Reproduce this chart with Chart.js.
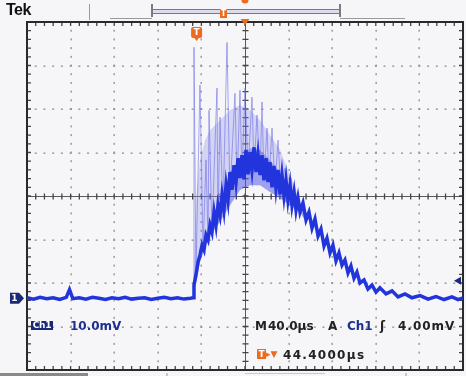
<!DOCTYPE html>
<html><head><meta charset="utf-8">
<script src="https://cdn.jsdelivr.net/npm/chart.js@4/dist/chart.umd.min.js"></script>
<style>
html,body{margin:0;padding:0;background:#f6f6f8;}
#wrap{position:relative;width:466px;height:376px;overflow:hidden;background:#f6f6f8;}
#c{position:absolute;left:0;top:0;}
.t{position:absolute;font-family:"DejaVu Sans",sans-serif;font-weight:bold;font-size:12px;line-height:12px;white-space:nowrap;color:#222;}
.navy{color:#1f2f90;}
.box{position:absolute;background:#1b2a78;color:#fff;font-family:"DejaVu Sans",sans-serif;font-weight:bold;font-size:9px;line-height:9px;height:9px;text-align:center;letter-spacing:-0.3px;}
.mk{position:absolute;color:#fff;font-family:"DejaVu Sans",sans-serif;font-weight:bold;font-size:9px;line-height:9px;text-align:center;width:11px;}
</style></head><body>
<div id="wrap">
<canvas id="c" width="466" height="376"></canvas>
<div class="t" id="tek" style="left:6px;top:2px;font-family:'Liberation Sans',sans-serif;font-size:16px;line-height:16px;color:#111;letter-spacing:-0.5px;">Tek</div>
<div class="box" style="left:31px;top:321px;width:22px;">Ch1</div>
<div class="t navy" style="left:70px;top:320px;">10.0mV</div>
<div class="t" style="left:255px;top:320px;">M<span style="margin-left:1px">40.0µs</span></div>
<div class="t" style="left:328px;top:320px;">A</div>
<div class="t navy" style="left:347px;top:320px;">Ch1</div>
<div class="t" style="left:380px;top:320px;">ʃ</div>
<div class="t" style="left:398px;top:320px;letter-spacing:1px;">4.00mV</div>
<div class="mk" style="left:257px;top:349px;width:9px;height:10px;background:#ee6a1c;line-height:10px;">T</div>
<div class="t" style="left:266px;top:348px;color:#ee6a1c;font-size:9px;">▸▼</div>
<div class="t" style="left:283px;top:349px;letter-spacing:1.3px;">44.4000µs</div>
<div class="mk" id="gm">1</div>
<div class="mk" id="tm">T</div>
<div class="mk" id="rm" style="width:7px;font-size:8px;">T</div>
</div>
<script>
// scope settings
const timeDivUs = 40;      // M 40.0µs per division
const voltDivMv = 10;      // Ch1 10.0mV per division
const xTicks = [-200,-160,-120,-80,-40,0,40,80,120,160,200];
const yTicks = [-40,-30,-20,-10,0,10,20,30,40];
const groundMv = -23.5;    // channel 1 ground level (relative to screen centre)
const triggerTimeUs = -44.4;
const triggerLevelMv = 4.0;

// main trace, µs and mV relative to screen centre
const traceT = [-200,-194,-188,-182,-176,-170,-164,-161,-158,-152,-146,-140,-134,-128,-122,-116,-110,-104,-98,-92,-86,-80,-74,-68,-62,-56,-50,
 -47.7,-46.8,-45.0,-43.1,-41.3,-39.4,-37.6,-35.8,-33.9,-32.1,-30.3,-28.4,-26.6,-24.8,-22.9,-21.1,-19.3,-17.4,-15.6,-13.8,-11.9,-10.1,-8.3,-6.4,-4.6,-2.8,-0.9,
 0.9,2.8,4.6,6.4,8.3,10.1,11.9,13.8,15.6,17.4,19.3,21.1,22.9,24.8,26.6,28.4,30.3,32.1,33.9,35.8,37.6,39.4,41.3,43.1,45.0,46.8,48.6,
 50.5,53.2,56.0,58.7,61.5,64.2,67.0,69.7,72.5,75.2,78.0,80.7,83.5,86.2,89.0,91.7,94.5,97.2,100.0,102.7,105.5,109.2,112.8,116.5,120.2,123.8,
 129.4,134.9,140.4,146.8,153.2,160.6,167.9,175.2,182.6,189.9,195.4,200];
const traceV = [-23.4,-23.7,-23.3,-23.6,-23.4,-23.8,-23.3,-21.5,-23.6,-23.4,-23.7,-23.3,-23.5,-23.8,-23.4,-23.6,-23.3,-23.7,-23.5,-23.4,-23.8,-23.5,-23.3,-23.6,-23.4,-23.7,-23.5,
 -23.4,-20.5,-18.2,-15.2,-13.6,-11.3,-12.4,-9.0,-10.1,-6.7,-8.3,-3.7,-6.7,-2.1,-4.4,0.2,-3.2,2.5,-0.9,5.5,1.4,7.1,3.2,8.7,4.1,9.4,3.8,
 10.6,5.0,10.1,6.0,11.2,5.5,9.6,4.8,9.4,3.6,8.7,3.2,7.8,2.0,6.9,1.8,6.0,0.4,4.8,0,3.7,-0.9,2.5,-2.1,0.9,-3.2,-0.5,
 -3.7,-1.6,-5.5,-3.7,-7.4,-5.3,-9.2,-7.6,-11.5,-9.7,-13.1,-11.3,-14.9,-13.1,-15.9,-14.7,-17.7,-16.1,-18.9,-17.5,-20.0,-19.3,-21.4,-20.5,-22.1,-21.1,
 -22.5,-21.8,-23.2,-22.5,-23.4,-22.9,-23.7,-23.1,-23.8,-23.2,-23.8,-23.4];

// sparse high spikes
const spikeT = [-47.7,-46.8,-45.0,-41.3,-38.5,-35.8,-33.9,-33.0,-30.3,-25.7,-24.8,-22.9,-20.2,-16.5,-13.8,-9.2,-7.3,-4.6,-2.8,0,2.8,6.4,8.3,11.0,13.8,15.6,17.4,20.2,22.0,24.8,27.5,30.3,33.0,36.7,39.4,42.2,45.0,48.6,50.5];
const spikeV = [-23.4,34.2,-17.4,25.5,-12.4,8.3,-10.1,19.7,-8.3,24.8,-6.0,18.1,-3.7,35.3,0.2,23.6,2.5,24.3,4.1,24.8,5.5,22.7,6.0,18.6,4.8,21.6,4.1,15.6,3.2,15.6,2.3,12.8,0.9,6.4,-0.9,4.1,-2.1,0.9,-3.7];

// light persistence haze outline (upper edge, then lower edge back)
const hazeT = [-47.7,-45.0,-41.3,-36.7,-32.1,-22.9,-13.8,-4.6,4.6,13.8,22.9,32.1,41.3,50.5,56.0,
               56.0,50.5,41.3,32.1,22.9,13.8,4.6,-4.6,-13.8,-22.9,-32.1,-41.3,-47.7];
const hazeV = [-23.4,-0.9,8.3,12.8,15.1,17.4,19.7,20.9,19.7,17.4,14.0,10.6,4.8,-0.9,-6.0,
               -6.0,-3.7,-2.1,-0.5,0.9,2.5,2.5,1.4,-2.1,-6.0,-9.0,-15.2,-23.4];

// dense band outline (upper edge, then lower edge back)
const denseT = [-47.7,-41.3,-32.1,-22.9,-13.8,-4.6,4.6,13.8,22.9,32.1,41.3,50.5,56.0,
                56.0,50.5,41.3,32.1,22.9,13.8,4.6,-4.6,-13.8,-22.9,-32.1,-41.3,-47.7];
const denseV = [-23.4,-12.0,-6.0,-0.9,5.5,8.7,11.0,10.6,8.3,5.5,1.8,-1.6,-4.6,
                -6.0,-3.7,-2.1,-0.5,0.9,2.5,2.5,1.4,-2.1,-6.0,-9.0,-15.2,-23.4];

const pts = (T,V)=>T.map((t,i)=>({x:t,y:V[i]}));

const graticule = {
  id:'graticule',
  beforeDatasetsDraw(chart){
    const {ctx, chartArea:a, scales:{x,y}} = chart;
    ctx.save();
    const minorX = timeDivUs/5, minorY = voltDivMv/5;
    ctx.fillStyle = '#8c8c8c';
    xTicks.forEach((tv,i)=>{
      if(i===0||i===xTicks.length-1||tv===0) return;
      const px = Math.round(x.getPixelForValue(tv));
      for(let v=yTicks[0]+minorY; v<yTicks[yTicks.length-1]-0.01; v+=minorY){
        const py = y.getPixelForValue(v);
        ctx.fillRect(px-0.5, py-1, 1.3, 2);
      }
    });
    yTicks.forEach((tv,i)=>{
      if(i===0||i===yTicks.length-1||tv===0) return;
      const py = Math.round(y.getPixelForValue(tv));
      for(let t=xTicks[0]+minorX; t<xTicks[xTicks.length-1]-0.01; t+=minorX){
        const px = x.getPixelForValue(t);
        ctx.fillRect(px-1, py-0.5, 2, 1.3);
      }
    });
    const cx = Math.round(x.getPixelForValue(0))+0.5, cy = Math.round(y.getPixelForValue(0))+0.5;
    ctx.strokeStyle = '#5a5a5a'; ctx.lineWidth = 1;
    ctx.beginPath(); ctx.moveTo(a.left,cy); ctx.lineTo(a.right,cy); ctx.moveTo(cx,a.top); ctx.lineTo(cx,a.bottom); ctx.stroke();
    ctx.strokeStyle = '#444'; ctx.lineWidth = 1.3;
    ctx.beginPath();
    for(let t=xTicks[0]+minorX; t<xTicks[xTicks.length-1]-0.01; t+=minorX){
      const px = x.getPixelForValue(t); ctx.moveTo(px,cy-3); ctx.lineTo(px,cy+3);
      ctx.moveTo(px,a.top); ctx.lineTo(px,a.top+4); ctx.moveTo(px,a.bottom); ctx.lineTo(px,a.bottom-4);
    }
    for(let v=yTicks[0]+minorY; v<yTicks[yTicks.length-1]-0.01; v+=minorY){
      const py = y.getPixelForValue(v); ctx.moveTo(cx-3,py); ctx.lineTo(cx+3,py);
      ctx.moveTo(a.left,py); ctx.lineTo(a.left+4,py); ctx.moveTo(a.right,py); ctx.lineTo(a.right-4,py);
    }
    ctx.stroke();
    ctx.strokeStyle = '#2a2a2a'; ctx.lineWidth = 2;
    ctx.strokeRect(a.left, a.top, a.right-a.left, a.bottom-a.top);
    ctx.restore();
  },
  afterDatasetsDraw(chart){
    const {ctx, chartArea:a, scales:{x,y}} = chart;
    ctx.save();
    const gy = y.getPixelForValue(groundMv);
    ctx.fillStyle = '#1b2a78';
    ctx.beginPath();
    ctx.moveTo(10,gy-5.5); ctx.lineTo(19,gy-5.5); ctx.lineTo(24,gy); ctx.lineTo(19,gy+5.5); ctx.lineTo(10,gy+5.5); ctx.closePath(); ctx.fill();
    const ty = y.getPixelForValue(groundMv+triggerLevelMv);
    ctx.beginPath(); ctx.moveTo(a.right-9,ty); ctx.lineTo(a.right-2,ty-4); ctx.lineTo(a.right-2,ty+4); ctx.closePath(); ctx.fill();
    const tx = x.getPixelForValue(triggerTimeUs);
    ctx.fillStyle = '#ee6a1c';
    ctx.beginPath(); ctx.roundRect(tx-5.5, a.top+5, 11, 11, 2); ctx.fill();
    ctx.beginPath(); ctx.moveTo(tx-3,a.top+15); ctx.lineTo(tx+3,a.top+15); ctx.lineTo(tx,a.top+19); ctx.closePath(); ctx.fill();
    const cx = x.getPixelForValue(0);
    ctx.beginPath(); ctx.moveTo(cx-4.5,a.top-3); ctx.lineTo(cx+4.5,a.top-3); ctx.lineTo(cx,a.top+3); ctx.closePath(); ctx.fill();
    ctx.beginPath(); ctx.arc(cx,0,3.5,0,Math.PI*2); ctx.fill();
    ctx.strokeStyle = '#555'; ctx.lineWidth = 1.5;
    ctx.beginPath(); ctx.moveTo(152,4); ctx.lineTo(152,17); ctx.moveTo(340,4); ctx.lineTo(340,17); ctx.stroke();
    ctx.fillStyle = '#dcdcee'; ctx.fillRect(152,9,188,4);
    ctx.strokeStyle = '#7474a4'; ctx.lineWidth = 1; ctx.strokeRect(152.5,9.5,187,4);
    ctx.fillStyle = '#ee6a1c'; ctx.fillRect(220,9,7,9);
    ctx.strokeStyle = '#9a9a9a'; ctx.lineWidth = 1;
    ctx.beginPath(); ctx.moveTo(89.5,4); ctx.lineTo(89.5,20); ctx.moveTo(110,18.5); ctx.lineTo(152,18.5); ctx.moveTo(340,18.5); ctx.lineTo(405,18.5); ctx.stroke();
    ctx.fillStyle = '#8a8a8a'; ctx.fillRect(0,373,88,3);
    ctx.fillStyle = '#c8c8c8'; ctx.fillRect(166,373,2,3); ctx.fillRect(245,373,80,1); ctx.fillRect(405,373,2,3);
    ctx.restore();
  }
};

const chart = new Chart(document.getElementById('c'), {
  type:'line',
  data:{datasets:[
    {label:'Ch1', data:pts(traceT,traceV), borderColor:'#2234dc', borderWidth:3.5, pointRadius:0, fill:false, tension:0},
    {label:'spikes', data:pts(spikeT,spikeV), borderColor:'rgba(110,110,230,0.6)', borderWidth:1, pointRadius:0, fill:false, tension:0},
    {label:'dense', data:pts(denseT,denseV), borderColor:'rgba(0,0,0,0)', borderWidth:0, pointRadius:0, fill:'shape', backgroundColor:'rgba(60,70,225,0.35)', tension:0},
    {label:'haze', data:pts(hazeT,hazeV), borderColor:'rgba(0,0,0,0)', borderWidth:0, pointRadius:0, fill:'shape', backgroundColor:'rgba(130,130,235,0.3)', tension:0}
  ]},
  options:{
    responsive:false, animation:false,
    layout:{padding:{left:27,right:3,top:22,bottom:6}},
    plugins:{legend:{display:false}, tooltip:{enabled:false}},
    scales:{
      x:{type:'linear', min:xTicks[0], max:xTicks[xTicks.length-1], display:false},
      y:{type:'linear', min:yTicks[0], max:yTicks[yTicks.length-1], display:false}
    }
  },
  plugins:[graticule]
});

const xs = chart.scales.x, ys = chart.scales.y, ca = chart.chartArea;
function place(id,l,t){const e=document.getElementById(id); e.style.left=l+'px'; e.style.top=t+'px';}
place('gm', 9, ys.getPixelForValue(groundMv)-4.5);
place('tm', xs.getPixelForValue(triggerTimeUs)-5.5, ca.top+6);
place('rm', 220, 9);
</script>
</body></html>
